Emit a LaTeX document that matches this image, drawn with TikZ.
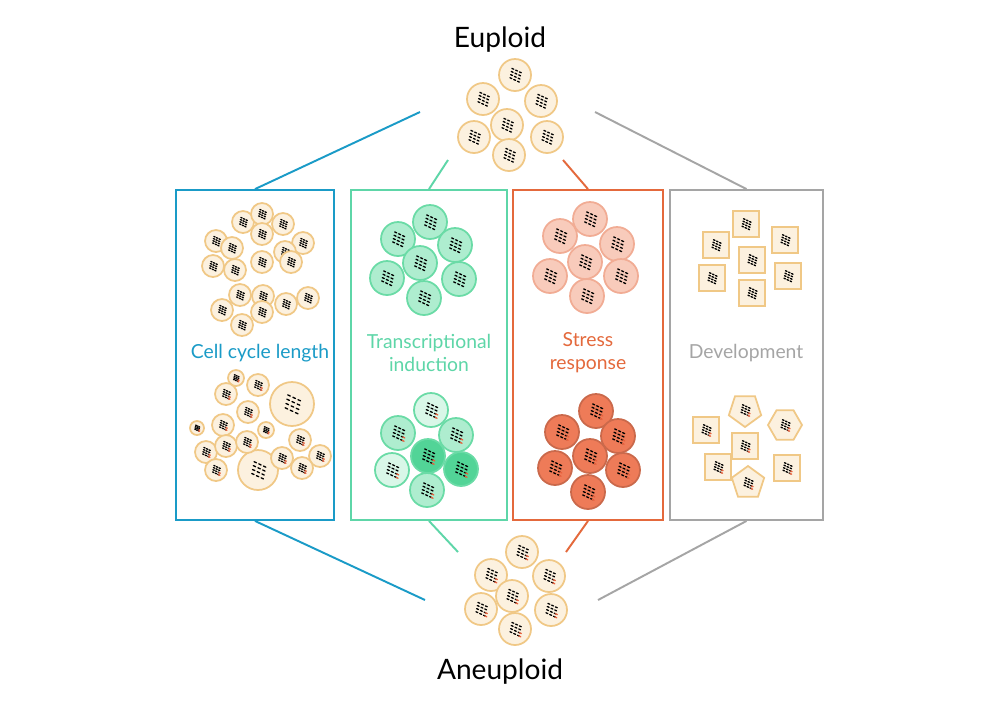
\documentclass[tikz,border=0pt]{standalone}
\usepackage{fontspec}
\setmainfont{Lato}
\usetikzlibrary{shapes.geometric}

\definecolor{cyclecol}{HTML}{1A9BC7}
\definecolor{transcol}{HTML}{5ED6A8}
\definecolor{stresscol}{HTML}{E4693C}
\definecolor{devcol}{HTML}{A5A5A5}
\definecolor{cellfill}{HTML}{FCF1DF}
\definecolor{celldraw}{HTML}{F0C886}
\definecolor{tfill}{HTML}{AEEDCF}
\definecolor{tdraw}{HTML}{6ADBA6}
\definecolor{tdark}{HTML}{52D497}
\definecolor{tlight}{HTML}{D9F7E8}
\definecolor{sfill}{HTML}{F8CBBB}
\definecolor{sdraw}{HTML}{F1AC94}
\definecolor{sdark}{HTML}{EE7B58}
\definecolor{chromred}{HTML}{E8603C}

\tikzset{
  panel/.style={draw, line width=1.1pt, minimum height=6.6cm, inner sep=0pt},
  link/.style={line width=1.1pt},
  title/.style={font=\fontsize{16}{18}\selectfont},
  caption/.style={font=\fontsize{11}{13}\selectfont, align=center},
  cellline/.style={line width=1pt},
}

% chromosome glyph: #1 scale, #2 aneuploid flag
\newcommand{\chromo}[2]{%
  \begin{scope}[scale=#1, rotate=-25, line width=0.75pt, line cap=round]
    \foreach \c in {0,1,2}
      \foreach \k in {0,...,3}
        {\draw (\c*4.4-6+\k*0.8, -5+\k*3.3) -- ++(2.2,0);}
    \ifnum#2=1
      \draw[chromred] (6.8, 4.9) -- ++(2.2,0);
      \draw[chromred] (6.0, 1.6) -- ++(2.2,0);
    \fi
  \end{scope}}

% round cell: x, y, radius, fill, border, aneuploid
\newcommand{\rcell}[6]{%
  \begin{scope}[shift={(#1,#2)}]
    \draw[cellline, fill=#4, draw=#5] (0,0) circle (#3);
    \pgfmathsetmacro{\sc}{#3/17}
    \chromo{\sc}{#6}
  \end{scope}}

% polygon cell: x, y, sides, start angle, aneuploid
\newcommand{\pcell}[5]{%
  \begin{scope}[shift={(#1,#2)}]
    \draw[cellline, fill=cellfill, draw=celldraw]
      (#4:17) \foreach \i in {1,...,#3} {-- (#4+\i*360/#3:17)} -- cycle;
    \chromo{0.75}{#5}
  \end{scope}}

% square cell: x, y, aneuploid
\newcommand{\scell}[3]{%
  \begin{scope}[shift={(#1,#2)}]
    \draw[cellline, fill=cellfill, draw=celldraw] (-13,-13) rectangle (13,13);
    \chromo{0.75}{#3}
  \end{scope}}

\begin{document}
\begin{tikzpicture}[x=0.02cm, y=-0.02cm]
  \fill[white] (0,0) rectangle (1000,708);

  % titles
  \node[title] (eu) at (500,40) {Euploid};
  \node[title] (aneu) at (500,672) {Aneuploid};

  % panels
  \node[panel, draw=cyclecol, minimum width=3.16cm] (cyc) at (255,355) {};
  \node[panel, draw=transcol, minimum width=3.12cm] (tra) at (429,355) {};
  \node[panel, draw=stresscol, minimum width=3.0cm] (str) at (588,355) {};
  \node[panel, draw=devcol, minimum width=3.06cm] (dev) at (746.5,355) {};

  \node[caption, text=cyclecol] (cyclab) at (260,353) {Cell cycle length};
  \node[caption, text=transcol] (tralab) at (429,353) {Transcriptional\\induction};
  \node[caption, text=stresscol] (strlab) at (588,353) {Stress\\response};
  \node[caption, text=devcol] (devlab) at (746,353) {Development};

  % free ends of the links
  \coordinate (tb) at (420,112);
  \coordinate (tt) at (448,160);
  \coordinate (ts) at (563,160);
  \coordinate (tg) at (595,112);
  \coordinate (bb) at (425,600);
  \coordinate (bt) at (458,552);
  \coordinate (bs) at (566,552);
  \coordinate (bg) at (598,600);

  \draw[link, cyclecol] (cyc.north) -- (tb);
  \draw[link, transcol] (tra.north) -- (tt);
  \draw[link, stresscol] (str.north) -- (ts);
  \draw[link, devcol] (dev.north) -- (tg);
  \draw[link, cyclecol] (cyc.south) -- (bb);
  \draw[link, transcol] (tra.south) -- (bt);
  \draw[link, stresscol] (str.south) -- (bs);
  \draw[link, devcol] (dev.south) -- (bg);

  % euploid cluster
  \foreach \x/\y in {515/75, 483/99, 541/101, 507/125, 474/137, 547/137, 509/155}
    {\rcell{\x}{\y}{16}{cellfill}{celldraw}{0}}
  % aneuploid cluster
  \foreach \x/\y in {522/552, 491/575, 549/576, 512/596, 481/609, 551/610, 515/629}
    {\rcell{\x}{\y}{16}{cellfill}{celldraw}{1}}

  % cell cycle length
  \foreach \x/\y in {243/222, 262/214, 283/224, 216/241, 232/248, 262/234, 303/243,
                     285/252, 213/266, 235/270, 262/262, 291/262, 240/295, 263/296,
                     286/304, 308/298, 222/310, 242/325, 262/312}
    {\rcell{\x}{\y}{11}{cellfill}{celldraw}{0}}
  \rcell{292}{404}{22}{cellfill}{celldraw}{0}
  \rcell{258}{470}{20}{cellfill}{celldraw}{0}
  \foreach \x/\y/\r in {236/378/8, 258/385/11, 226/394/11, 248/412/11, 266/430/8,
                        223/425/11, 206/452/11, 226/446/11, 247/442/11, 300/440/11,
                        320/456/11, 282/458/11, 302/468/11, 216/470/11, 197/428/7}
    {\rcell{\x}{\y}{\r}{cellfill}{celldraw}{1}}

  % transcriptional induction
  \foreach \x/\y in {398/239, 430/222, 455/245, 387/278, 420/263, 459/279, 424/298}
    {\rcell{\x}{\y}{17}{tfill}{tdraw}{0}}
  \foreach \x/\y/\f in {431/410/tlight, 398/433/tfill, 456/435/tfill, 428/456/tdark,
                        392/470/tlight, 461/469/tdark, 427/490/tfill}
    {\rcell{\x}{\y}{17}{\f}{tdraw}{1}}

  % stress response
  \foreach \x/\y in {560/236, 590/219, 617/244, 550/276, 585/262, 621/276, 587/296}
    {\rcell{\x}{\y}{17}{sfill}{sdraw}{0}}
  \foreach \x/\y in {596/411, 562/432, 618/436, 590/456, 555/468, 623/470, 588/492}
    {\rcell{\x}{\y}{17}{sdark}{sdark!85!black}{1}}

  % development
  \foreach \x/\y in {746/224, 785/240, 716/245, 752/260, 712/278, 788/276, 752/293}
    {\scell{\x}{\y}{0}}
  \foreach \x/\y in {706/430, 745/446, 718/467, 787/468}
    {\scell{\x}{\y}{1}}
  \pcell{745}{410}{5}{90}{1}
  \pcell{748}{483}{5}{270}{1}
  \pcell{785}{425}{6}{0}{1}
\end{tikzpicture}
\end{document}
